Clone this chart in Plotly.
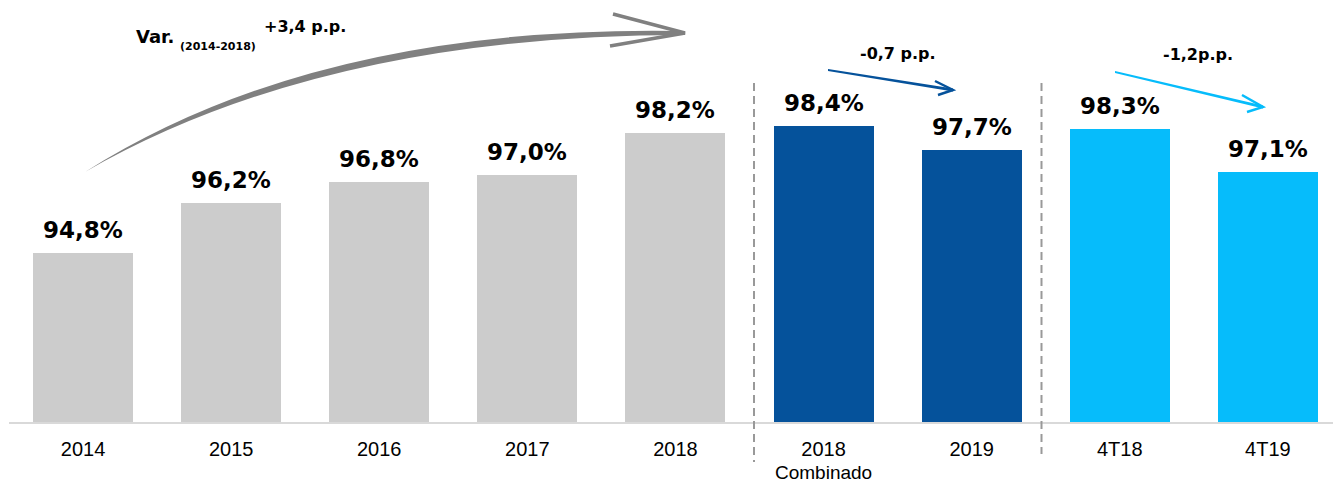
import plotly.graph_objects as go

# ---- data ----
categories = ["2014", "2015", "2016", "2017", "2018", "2018", "2019", "4T18", "4T19"]
sub_labels = ["", "", "", "", "", "Combinado", "", "", ""]
values = [94.8, 96.2, 96.8, 97.0, 98.2, 98.4, 97.7, 98.3, 97.1]
value_labels = ["94,8%", "96,2%", "96,8%", "97,0%", "98,2%", "98,4%", "97,7%", "98,3%", "97,1%"]
bar_colors = ["#cccccc"] * 5 + ["#05529b"] * 2 + ["#06bcfb"] * 2
y_base = 90

W, H = 1333, 484
L, T, B = 9, 0, 62
PW, PH = W - L, H - T - B

def px(x):
    return (x - L) / PW

def py(y):
    return 1 - (y - T) / PH

xs = list(range(len(values)))

fig = go.Figure()
fig.add_trace(go.Bar(
    x=xs, y=[v - y_base for v in values], width=0.675,
    marker=dict(color=bar_colors, line=dict(width=0)), hoverinfo="skip"))

annotations = []
for x, v, lab in zip(xs, values, value_labels):
    annotations.append(dict(x=x, y=v - y_base, xref="x", yref="y", text="<b>%s</b>" % lab,
                            showarrow=False, yanchor="bottom", yshift=8,
                            font=dict(family="DejaVu Sans", size=23, color="#000000")))
for x, s in zip(xs, sub_labels):
    if s:
        annotations.append(dict(x=x, y=py(472), xref="x", yref="paper", text=s,
                                showarrow=False, yanchor="middle", borderpad=0,
                                font=dict(family="Liberation Sans Narrow, Liberation Sans",
                                          size=19, color="#000000")))

def txt(x, y, s, size, anchor="left"):
    return dict(x=px(x), y=py(y), xref="paper", yref="paper", text="<b>%s</b>" % s,
                showarrow=False, xanchor=anchor, yanchor="middle",
                font=dict(family="DejaVu Sans", size=size, color="#000000"))

annotations += [
    txt(134, 37, "Var.", 18),
    txt(178, 46, "(2014-2018)", 11),
    txt(262, 27, "+3,4 p.p.", 16),
    txt(898, 53, "-0,7 p.p.", 16, "center"),
    txt(1198, 55, "-1,2p.p.", 16, "center"),
]

def P(x, y):
    return "%.5f,%.5f" % (px(x), py(y))

shapes = []
# grey curved tapered arrow body
path = ("M " + P(85, 172) + " Q " + P(318, 24) + " " + P(685, 31) +
        " L " + P(685, 35) + " Q " + P(323, 35) + " " + P(85, 172) + " Z")
shapes.append(dict(type="path", xref="paper", yref="paper", path=path,
                   fillcolor="#808080", line=dict(width=0)))
shapes.append(dict(type="path", xref="paper", yref="paper",
                   path="M " + P(613, 14) + " L " + P(685, 33) + " L " + P(610, 46),
                   line=dict(color="#808080", width=3.5)))
# dark blue arrow
shapes.append(dict(type="path", xref="paper", yref="paper",
                   path="M " + P(828, 69) + " L " + P(953, 88.5) + " L " + P(953, 91.5) + " L " + P(828, 71) + " Z",
                   fillcolor="#05529b", line=dict(width=0)))
shapes.append(dict(type="path", xref="paper", yref="paper",
                   path="M " + P(935, 81) + " L " + P(953, 90) + " L " + P(938, 95),
                   line=dict(color="#05529b", width=2.5)))
# light blue arrow
shapes.append(dict(type="path", xref="paper", yref="paper",
                   path="M " + P(1115, 71) + " L " + P(1263, 105.5) + " L " + P(1263, 108.5) + " L " + P(1115, 73) + " Z",
                   fillcolor="#06bcfb", line=dict(width=0)))
shapes.append(dict(type="path", xref="paper", yref="paper",
                   path="M " + P(1242, 95) + " L " + P(1263, 107) + " L " + P(1247, 112),
                   line=dict(color="#06bcfb", width=2.5)))
# dashed separators
for xx, y1 in [(754, 462), (1041.5, 454)]:
    shapes.append(dict(type="line", xref="paper", yref="paper",
                       x0=px(xx), x1=px(xx), y0=py(83), y1=py(y1),
                       line=dict(color="#999999", width=2, dash="8px,5px")))

fig.update_layout(
    width=W, height=H, margin=dict(l=L, r=0, t=T, b=B, autoexpand=False),
    paper_bgcolor="white", plot_bgcolor="white", showlegend=False,
    bargap=0,
    xaxis=dict(range=[-0.5, -0.5 + PW / 148.1], tickmode="array", tickvals=xs, ticktext=categories,
               showgrid=False, zeroline=False, showline=True, linecolor="#d9d9d9", linewidth=2,
               automargin=False,
               ticks="outside", ticklen=8, tickcolor="rgba(0,0,0,0)",
               tickfont=dict(family="Liberation Sans Narrow, Liberation Sans", size=20, color="#000000")),
    yaxis=dict(range=[0, PH / 35.28], visible=False, showgrid=False, zeroline=False, automargin=False),
    annotations=annotations, shapes=shapes,
)

fig.write_html("out.html")
